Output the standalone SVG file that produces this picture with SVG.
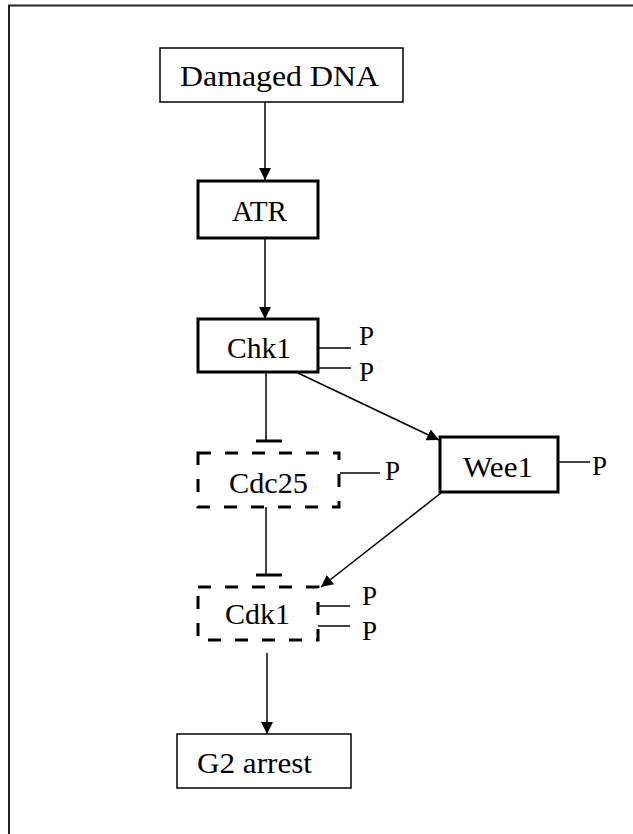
<svg xmlns="http://www.w3.org/2000/svg" width="633" height="834" viewBox="0 0 633 834">
<style>
text{font-family:"Liberation Serif","Times New Roman",serif;font-size:29px;fill:#000}
.p{font-size:27px}
.thin{fill:#fff;stroke:#000;stroke-width:1.5}
.thick{fill:#fff;stroke:#000;stroke-width:3}
.dash{fill:#fff;stroke:#000;stroke-width:3;stroke-dasharray:13 14}
.ln{stroke:#000;stroke-width:1.5;fill:none}
.bar{stroke:#000;stroke-width:3;fill:none}
.ar{stroke:#000;stroke-width:1.5;fill:none;marker-end:url(#ah)}
</style>
<defs>
<marker id="ah" markerUnits="userSpaceOnUse" markerWidth="14" markerHeight="14" refX="12" refY="6" orient="auto">
<path d="M0,0 L12,6 L0,12 z" fill="#000"/>
</marker>
</defs>
<rect x="0" y="0" width="633" height="834" fill="#fff"/>
<rect x="9" y="5.5" width="800" height="900" fill="none" stroke="#222" stroke-width="2"/>
<g id="connectors">
<line class="ar" x1="265" y1="102" x2="265" y2="180"/>
<line class="ar" x1="265" y1="238" x2="265" y2="319"/>
<line class="ln" x1="266" y1="372" x2="266" y2="441"/>
<line class="bar" x1="256" y1="441" x2="282" y2="441"/>
<line class="ln" x1="266" y1="507" x2="266" y2="575"/>
<line class="bar" x1="256" y1="575" x2="282" y2="575"/>
<line class="ar" x1="298" y1="373" x2="439" y2="440"/>
<line class="ar" x1="441" y1="493" x2="321" y2="587"/>
<line class="ar" x1="267" y1="653" x2="267" y2="734"/>
<line class="ln" x1="318" y1="348" x2="351" y2="348"/>
<line class="ln" x1="318" y1="368" x2="351" y2="368"/>
<line class="ln" x1="340" y1="473" x2="380" y2="473"/>
<line class="ln" x1="558" y1="462" x2="590" y2="462"/>
<line class="ln" x1="318" y1="606" x2="350" y2="606"/>
<line class="ln" x1="318" y1="626" x2="350" y2="626"/>
</g>
<g id="damaged-dna">
<rect class="thin" x="160" y="48" width="243" height="54"/>
<text x="180" y="86" textLength="199" lengthAdjust="spacingAndGlyphs">Damaged DNA</text>
</g>
<g id="atr">
<rect class="thick" x="198" y="181" width="120" height="57"/>
<text x="232" y="221" textLength="55" lengthAdjust="spacingAndGlyphs">ATR</text>
</g>
<g id="chk1">
<rect class="thick" x="198" y="319" width="120" height="53"/>
<text x="227" y="358" textLength="64" lengthAdjust="spacingAndGlyphs">Chk1</text>
<text class="p" x="359" y="345">P</text>
<text class="p" x="359" y="381">P</text>
</g>
<g id="cdc25">
<rect class="dash" x="198" y="453" width="141" height="54"/>
<text x="229" y="493" textLength="79" lengthAdjust="spacingAndGlyphs">Cdc25</text>
<text class="p" x="385" y="480">P</text>
</g>
<g id="wee1">
<rect class="thick" x="440" y="437" width="118" height="55"/>
<text x="463" y="477" textLength="70" lengthAdjust="spacingAndGlyphs">Wee1</text>
<text class="p" x="592" y="475">P</text>
</g>
<g id="cdk1">
<rect class="dash" x="198" y="587" width="120" height="53"/>
<text x="225" y="624" textLength="65" lengthAdjust="spacingAndGlyphs">Cdk1</text>
<text class="p" x="362" y="605">P</text>
<text class="p" x="362" y="640">P</text>
</g>
<g id="g2-arrest">
<rect class="thin" x="177" y="734" width="174" height="54"/>
<text x="197" y="773" textLength="115" lengthAdjust="spacingAndGlyphs">G2 arrest</text>
</g>
</svg>
